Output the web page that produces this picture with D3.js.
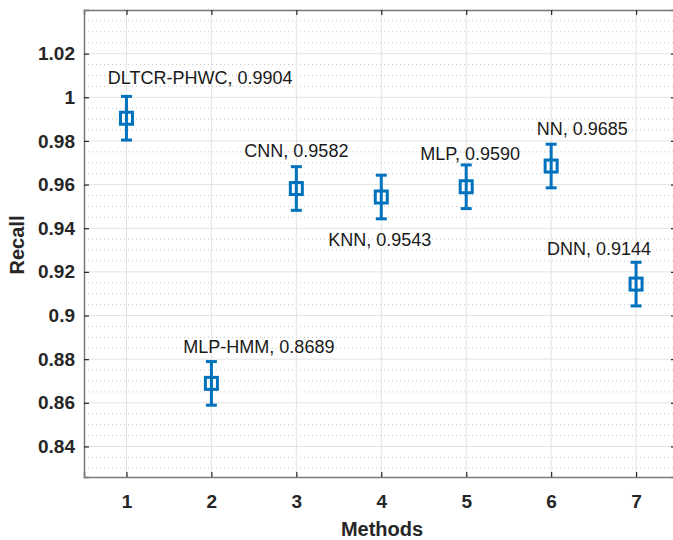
<!DOCTYPE html>
<html><head><meta charset="utf-8">
<script src="https://cdn.jsdelivr.net/npm/d3@7"></script>
<style>body{margin:0;background:#fff}svg{display:block}</style>
</head><body>
<svg id="c" width="673" height="540"></svg>
<script>
const methods = [1,2,3,4,5,6,7];
const names = ["DLTCR-PHWC","MLP-HMM","CNN","KNN","MLP","NN","DNN"];
const recall = [0.9904,0.8689,0.9582,0.9543,0.9590,0.9685,0.9144];
const errLow = [0.01,0.01,0.01,0.01,0.01,0.01,0.01];
const errHigh = [0.01,0.01,0.01,0.01,0.01,0.01,0.01];
// label anchor (left edge, vertical middle) in data units
const labelX = [0.78,1.67,2.388,3.376,4.459,5.83,5.95];
const labelY = [1.0088,0.8859,0.9756,0.9349,0.9742,0.9857,0.9308];
const yTicks = [0.84,0.86,0.88,0.9,0.92,0.94,0.96,0.98,1,1.02];
const yTickLabels = ["0.84","0.86","0.88","0.9","0.92","0.94","0.96","0.98","1","1.02"];

const svg = d3.select("#c");
const L=84, T=10, R=676, B=477;
const x = d3.scaleLinear().domain([0.5,7.47]).range([L,R]);
const y = d3.scaleLinear().domain([0.826,1.04]).range([B,T]);
const blue = "#0072BD";
const FONT = "Liberation Sans, Arial, Helvetica, sans-serif";

const g = svg.append("g");
// minor grid
const minor = d3.range(0.83,1.04,0.005).map(v=>+v.toFixed(3)).filter(v=>!yTicks.some(t=>Math.abs(t-v)<1e-6));
g.selectAll(".mg").data(minor).join("line")
 .attr("x1",L).attr("x2",R).attr("y1",d=>y(d)).attr("y2",d=>y(d))
 .attr("stroke","#c8c8c8").attr("stroke-width",1).attr("stroke-dasharray","1,3");
// major grid
g.selectAll(".gy").data(yTicks).join("line")
 .attr("x1",L).attr("x2",R).attr("y1",d=>y(d)).attr("y2",d=>y(d))
 .attr("stroke","#e3e3e3").attr("stroke-width",1);
g.selectAll(".gx").data(methods).join("line")
 .attr("x1",d=>x(d)).attr("x2",d=>x(d)).attr("y1",T).attr("y2",B)
 .attr("stroke","#e3e3e3").attr("stroke-width",1);

// axes
const tickCol="#262626";
const ax = svg.append("g").attr("transform",`translate(0,${B})`)
 .call(d3.axisBottom(x).tickValues(methods).tickSize(-5).tickPadding(18).tickFormat(d3.format("d")));
const ay = svg.append("g").attr("transform",`translate(${L},0)`)
 .call(d3.axisLeft(y).tickValues(yTicks).tickSize(-5).tickPadding(9).tickFormat((d,i)=>yTickLabels[i]));
const axT = svg.append("g").attr("transform",`translate(0,${T})`)
 .call(d3.axisTop(x).tickValues(methods).tickSize(-5).tickFormat(""));
const axR = svg.append("g").attr("transform",`translate(${R},0)`)
 .call(d3.axisRight(y).tickValues(yTicks).tickSize(-5).tickFormat(""));
[ax,ay,axT,axR].forEach(a=>{
  a.select(".domain").attr("stroke","#7a7a7a").attr("stroke-width",1.5);
  a.selectAll(".tick line").attr("stroke",tickCol).attr("stroke-width",1.2);
  a.selectAll(".tick text").attr("fill","#262626").attr("font-family",FONT)
   .attr("font-size",19).attr("font-weight","bold");
});

// error bars
const data = methods.map((m,i)=>({m,v:recall[i],lo:recall[i]-errLow[i],hi:recall[i]+errHigh[i],name:names[i],lx:labelX[i],ly:labelY[i]}));
const eb = svg.append("g").attr("stroke",blue).attr("stroke-width",3).attr("fill","none");
eb.selectAll(".v").data(data).join("line")
 .attr("x1",d=>x(d.m)).attr("x2",d=>x(d.m)).attr("y1",d=>y(d.lo)).attr("y2",d=>y(d.hi));
eb.selectAll(".ct").data(data).join("line")
 .attr("x1",d=>x(d.m)-5.5).attr("x2",d=>x(d.m)+5.5).attr("y1",d=>y(d.hi)).attr("y2",d=>y(d.hi));
eb.selectAll(".cb").data(data).join("line")
 .attr("x1",d=>x(d.m)-5.5).attr("x2",d=>x(d.m)+5.5).attr("y1",d=>y(d.lo)).attr("y2",d=>y(d.lo));
eb.selectAll(".sq").data(data).join("rect")
 .attr("x",d=>x(d.m)-6).attr("y",d=>y(d.v)-6).attr("width",12).attr("height",12)
 .attr("fill","none");

// labels
svg.append("g").selectAll("text").data(data).join("text")
 .attr("x",d=>x(d.lx)).attr("y",d=>y(d.ly)).attr("dy","0.35em")
 .attr("font-family",FONT).attr("font-size",18).attr("fill","#1a1a1a")
 .text(d=>`${d.name}, ${d.v.toFixed(4)}`);

// axis titles
svg.append("text").attr("x",382).attr("y",536)
 .attr("text-anchor","middle").attr("font-family",FONT)
 .attr("font-size",20).attr("font-weight","bold").attr("fill","#262626").text("Methods");
svg.append("text").attr("transform",`translate(24,245) rotate(-90)`)
 .attr("text-anchor","middle").attr("font-family",FONT)
 .attr("font-size",20).attr("font-weight","bold").attr("fill","#262626").text("Recall");
</script>
</body></html>
